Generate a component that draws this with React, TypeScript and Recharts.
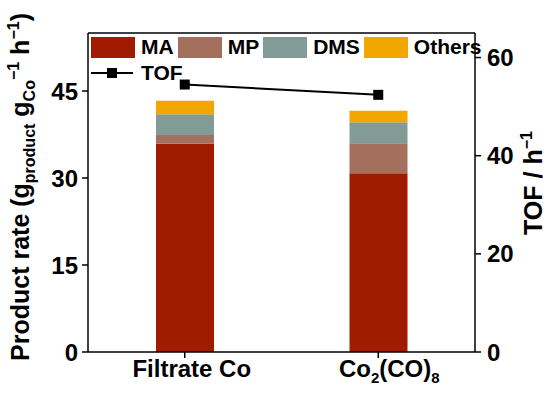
import React from 'react';
import { ComposedChart, Bar, Line, XAxis, YAxis, Legend, ReferenceLine } from 'recharts';

const categories = ['Filtrate Co', 'Co2(CO)8'];
const maValues = [35.9, 30.8];
const mpValues = [1.5, 5.2];
const dmsValues = [3.6, 3.6];
const othersValues = [2.3, 2.0];
const tofValues = [54.5, 52.4];

const leftTicks = [0, 15, 30, 45];
const rightTicks = [0, 20, 40, 60];

const barSeries = [
  { key: 'MA', color: '#A11B00' },
  { key: 'MP', color: '#A46F5C' },
  { key: 'DMS', color: '#829B97' },
  { key: 'Others', color: '#F1A600' },
];

const data = categories.map((name, i) => ({
  name,
  MA: maValues[i],
  MP: mpValues[i],
  DMS: dmsValues[i],
  Others: othersValues[i],
  TOF: tofValues[i],
}));

const FONT = '"Liberation Sans", Arial, sans-serif';

const XTick = (props: any) => {
  const { x, y, payload } = props;
  const common = { fontFamily: FONT, fontWeight: 700, fill: '#000' };
  if (payload.value === 'Co2(CO)8') {
    return (
      <text x={x + 11} y={y + 17} textAnchor="middle" fontSize={24} {...common}>
        <tspan>Co</tspan>
        <tspan fontSize={15} dy={6}>2</tspan>
        <tspan dy={-6}>(CO)</tspan>
        <tspan fontSize={15} dy={6}>8</tspan>
      </text>
    );
  }
  return (
    <text x={x + 7} y={y + 17} textAnchor="middle" fontSize={24} {...common}>
      {payload.value}
    </text>
  );
};

const Square = (props: any) => {
  const { cx, cy } = props;
  if (cx == null || cy == null) return null;
  return <rect x={cx - 5} y={cy - 5} width={10} height={10} fill="#000" />;
};

const LegendBox = () => (
  <div style={{ fontFamily: FONT, fontWeight: 700, fontSize: 21, color: '#000', lineHeight: '22px' }}>
    <div style={{ display: 'flex', alignItems: 'center', height: 22 }}>
      {barSeries.map((s) => (
        <div key={s.key} style={{ display: 'flex', alignItems: 'center', marginRight: 4 }}>
          <div style={{ width: 44, height: 21, background: s.color, marginRight: 6 }} />
          <span>{s.key}</span>
        </div>
      ))}
    </div>
    <div style={{ display: 'flex', alignItems: 'center', height: 22, marginTop: 4 }}>
      <svg width={42} height={12} style={{ marginRight: 8 }}>
        <line x1={0} y1={6} x2={42} y2={6} stroke="#000" strokeWidth={2} />
        <rect x={16} y={1} width={10} height={10} fill="#000" />
      </svg>
      <span>TOF</span>
    </div>
  </div>
);

const LeftTitle = () => (
  <text
    x={29}
    y={187}
    transform="rotate(-90, 29, 187)"
    textAnchor="middle"
    fontFamily={FONT}
    fontWeight={700}
    fontSize={25}
    fill="#000"
  >
    <tspan>Product rate (g</tspan>
    <tspan fontSize={16} dy={6}>product</tspan>
    <tspan dy={-6}> g</tspan>
    <tspan fontSize={16} dy={6}>Co</tspan>
    <tspan fontSize={16} dy={-16}>−1</tspan>
    <tspan dy={10}> h</tspan>
    <tspan fontSize={16} dy={-10}>−1</tspan>
    <tspan dy={10}>)</tspan>
  </text>
);

const RightTitle = () => (
  <text
    x={542}
    y={183}
    transform="rotate(-90, 542, 183)"
    textAnchor="middle"
    fontFamily={FONT}
    fontWeight={700}
    fontSize={25}
    fill="#000"
  >
    <tspan>TOF / h</tspan>
    <tspan fontSize={16} dy={-10}>−1</tspan>
  </text>
);

const tickStyle = { fontFamily: FONT, fontWeight: 700, fontSize: 24, fill: '#000' };

export default function App() {
  return (
    <div style={{ position: 'absolute', left: 0, top: 0, background: '#fff' }}>
      <ComposedChart
        width={550}
        height={397}
        data={data}
        margin={{ top: 33, right: 0, bottom: 0, left: 0 }}
      >
        <XAxis
          dataKey="name"
          height={45}
          tick={<XTick />}
          tickSize={6}
          axisLine={{ stroke: '#000', strokeWidth: 1.5 }}
          tickLine={{ stroke: '#000', strokeWidth: 1.5 }}
        />
        <YAxis
          yAxisId="left"
          width={88}
          domain={[0, 55]}
          ticks={leftTicks}
          tick={tickStyle}
          tickSize={6}
          tickMargin={4}
          axisLine={{ stroke: '#000', strokeWidth: 1.5 }}
          tickLine={{ stroke: '#000', strokeWidth: 1.5 }}
          label={<LeftTitle />}
        />
        <YAxis
          yAxisId="right"
          orientation="right"
          width={75}
          domain={[0, 65]}
          ticks={rightTicks}
          tick={tickStyle}
          tickSize={6}
          tickMargin={6}
          axisLine={{ stroke: '#000', strokeWidth: 1.5 }}
          tickLine={{ stroke: '#000', strokeWidth: 1.5 }}
          label={<RightTitle />}
        />
        <ReferenceLine yAxisId="left" y={55} stroke="#000" strokeWidth={1.5} />
        {barSeries.map((s) => (
          <Bar
            key={s.key}
            yAxisId="left"
            dataKey={s.key}
            stackId="a"
            fill={s.color}
            barSize={58}
            isAnimationActive={false}
          />
        ))}
        <Line
          yAxisId="right"
          dataKey="TOF"
          stroke="#000"
          strokeWidth={2}
          dot={<Square />}
          activeDot={false}
          isAnimationActive={false}
        />
        <Legend
          layout="vertical"
          align="center"
          verticalAlign="middle"
          wrapperStyle={{ top: 36, left: 91 }}
          content={<LegendBox />}
        />
      </ComposedChart>
    </div>
  );
}
